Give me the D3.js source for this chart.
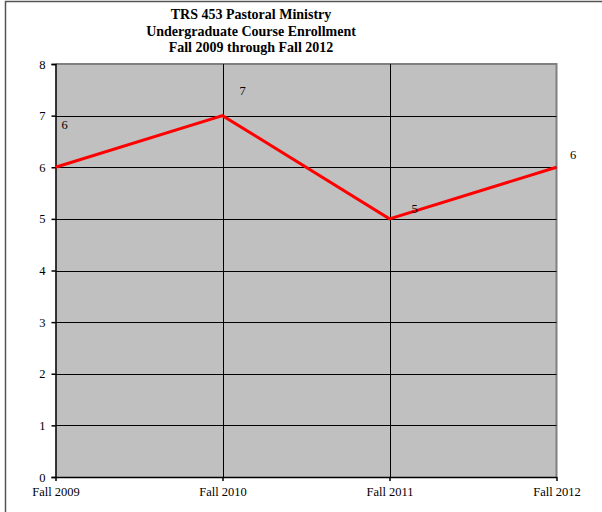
<!DOCTYPE html>
<html><head><meta charset="utf-8">
<script src="https://cdn.jsdelivr.net/npm/d3@7"></script>
<style>html,body{margin:0;padding:0;background:#fff;}svg{display:block;}</style>
</head><body>
<script>
const categories = ["Fall 2009", "Fall 2010", "Fall 2011", "Fall 2012"];
const enrollment = [6, 7, 5, 6];
const yTicks = [0, 1, 2, 3, 4, 5, 6, 7, 8];
const titleLines = ["TRS 453 Pastoral Ministry", "Undergraduate Course Enrollment", "Fall 2009 through Fall 2012"];
const labelOffsets = [[9, -38], [20, -21], [25, -6], [16.5, -8.5]];

(function () {
const W = 602, H = 512;
const pL = 55.5, pR = 556.5, pT = 64, pB = 477;
const svg = d3.select("body").append("svg").attr("width", W).attr("height", H);
const font = "'Liberation Serif','Times New Roman',serif";

// outer chart border
svg.append("rect").attr("x", 5.5).attr("y", 1.5).attr("width", 620).attr("height", 540)
  .attr("fill", "#fff").attr("stroke", "#555").attr("stroke-width", 1.5);

const x = d3.scalePoint().domain(categories).range([pL, pR]);
const y = d3.scaleLinear().domain([0, 8]).range([pB, pT]);

// plot area
svg.append("rect").attr("x", pL).attr("y", pT).attr("width", pR - pL).attr("height", pB - pT)
  .attr("fill", "#c0c0c0");
// plot border top/right gray
svg.append("path").attr("d", `M${pL},${pT}H${pR}V${pB}`).attr("fill", "none")
  .attr("stroke", "#808080").attr("stroke-width", 2);

// horizontal gridlines
svg.append("g").selectAll("line").data(yTicks.slice(1, -1)).join("line")
  .attr("x1", pL).attr("x2", pR).attr("y1", d => Math.round(y(d)) + 0.5).attr("y2", d => Math.round(y(d)) + 0.5)
  .attr("stroke", "#000").attr("stroke-width", 1);
// vertical gridlines
svg.append("g").selectAll("line").data(categories.slice(1, -1)).join("line")
  .attr("x1", d => Math.round(x(d)) + 0.5).attr("x2", d => Math.round(x(d)) + 0.5).attr("y1", pT).attr("y2", pB)
  .attr("stroke", "#000").attr("stroke-width", 1);

// y axis
const yAxis = svg.append("g").attr("transform", `translate(${pL},0)`)
  .call(d3.axisLeft(y).tickValues(yTicks).tickSize(4).tickPadding(6).tickFormat(d3.format("d")));
yAxis.select(".domain").attr("stroke", "#000").attr("stroke-width", 1.5);
yAxis.selectAll("line").attr("stroke", "#000").attr("stroke-width", 1.5);
yAxis.selectAll("text").attr("font-family", font).attr("font-size", "12.5px").attr("fill", "#000");

// x axis
const xAxis = svg.append("g").attr("transform", `translate(0,${pB})`)
  .call(d3.axisBottom(x).tickSize(4).tickPadding(6).tickSizeOuter(0));
xAxis.select(".domain").attr("stroke", "#000").attr("stroke-width", 1.5);
xAxis.selectAll("line").attr("stroke", "#000").attr("stroke-width", 1.5);
xAxis.selectAll("text").attr("font-family", font).attr("font-size", "12.5px").attr("fill", "#000");

// line
const line = d3.line().x((d, i) => x(categories[i])).y(d => y(d));
svg.append("path").datum(enrollment).attr("d", line).attr("fill", "none")
  .attr("stroke", "#ff0000").attr("stroke-width", 3).attr("stroke-linejoin", "miter");

// data labels
svg.append("g").selectAll("text").data(enrollment).join("text")
  .attr("x", (d, i) => x(categories[i]) + labelOffsets[i][0])
  .attr("y", (d, i) => y(d) + labelOffsets[i][1])
  .attr("text-anchor", "middle").attr("font-family", font).attr("font-size", "12.5px").attr("fill", "#000")
  .text(d => d);

// title
svg.append("g").selectAll("text").data(titleLines).join("text")
  .attr("x", 251).attr("y", (d, i) => 19 + i * 16.5)
  .attr("text-anchor", "middle").attr("font-family", font).attr("font-weight", "bold").attr("font-size", "14px")
  .attr("fill", "#000").text(d => d);
})();
</script>
</body></html>
